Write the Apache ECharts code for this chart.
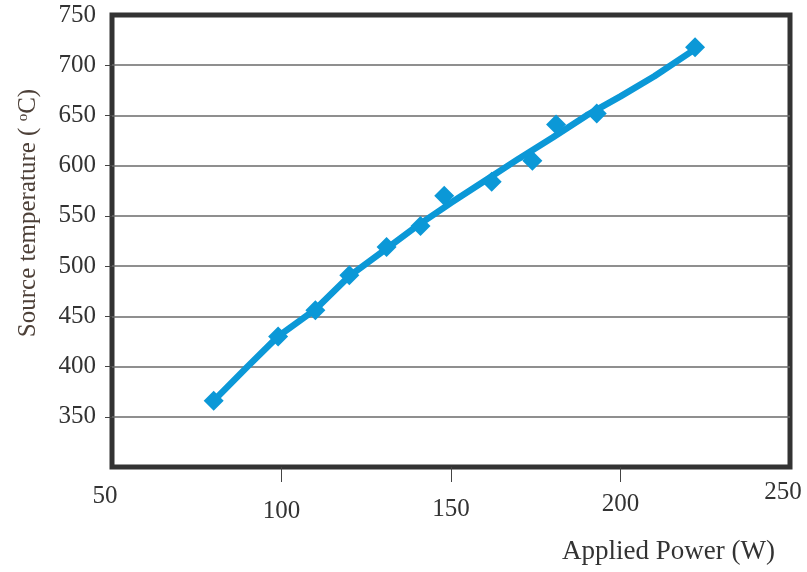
<!DOCTYPE html>
<html>
<head>
<meta charset="utf-8">
<script src="https://cdn.jsdelivr.net/npm/echarts@6/dist/echarts.min.js"></script>
<style>html,body{margin:0;padding:0;background:#fff}#c{width:807px;height:572px}</style>
</head>
<body>
<div id="c"></div>
<script>
// Measured data points (Applied Power W, Source temperature °C)
var powerPts = [80, 99, 110, 120, 131, 141, 148, 162, 174, 181, 193, 222];
var tempPts  = [366, 430, 456, 491, 519, 540, 570, 584, 605, 641, 652, 718];
// Fitted curve
var fitPower = [80, 90, 99, 110, 120, 130, 140, 150, 160, 170, 180, 190, 200, 210, 222];
var fitTemp  = [366, 400, 430, 457, 490, 515, 540, 563, 585, 607, 628, 650, 669, 689, 716];
var xTicks = [50, 100, 150, 200, 250];
var yTicks = [350, 400, 450, 500, 550, 600, 650, 700, 750];

var blue = '#0b98d7';
var font = 'Liberation Serif';
var txt = '#333';

function lab(pad) { return {fontFamily: font, fontSize: 25, color: txt, padding: pad}; }

var chart = echarts.init(document.getElementById('c'), null, {renderer: 'canvas'});
chart.setOption({
  animation: false,
  backgroundColor: '#fff',
  grid: {left: 112, right: 17, top: 15, bottom: 105, show: true, borderColor: '#333', borderWidth: 5, backgroundColor: 'transparent', containLabel: false, outerBoundsMode: 'none'},
  xAxis: {
    type: 'value', min: 50, max: 250, interval: 50,
    axisLine: {show: false},
    splitLine: {show: false},
    axisTick: {show: true, inside: false, length: 15, lineStyle: {color: '#444', width: 1}, customValues: xTicks.slice(1, 4)},
    axisLabel: {
      margin: 13, color: txt, fontFamily: font, fontSize: 25,
      formatter: function (v) { return '{l' + v + '|' + v + '}'; },
      rich: {
        l50: lab([4, 14, 0, 0]),
        l100: lab([19, 0, 0, 0]),
        l150: lab([17, 0, 0, 0]),
        l200: lab([12, 0, 0, 0]),
        l250: lab([0, 14, 0, 0])
      }
    },
    name: 'Applied Power (W)', nameLocation: 'end', nameGap: -15,
    nameTextStyle: {fontFamily: font, fontSize: 27, color: txt, align: 'right', verticalAlign: 'top', padding: [71, 0, 0, 0]}
  },
  yAxis: {
    type: 'value', min: 300, max: 750, interval: 50,
    axisLine: {show: false},
    splitLine: {show: true, lineStyle: {color: '#6a6a6a', width: 1.5}},
    axisTick: {show: true, inside: false, length: 7, lineStyle: {color: '#444', width: 1}, customValues: yTicks.slice(0, 8)},
    axisLabel: {
      margin: 16, color: txt, fontFamily: font, fontSize: 25,
      formatter: function (v) { return yTicks.indexOf(v) >= 0 ? String(v) : ''; }
    },
    name: '{a|Source temperature ( }{b|o}{a|C)}', nameLocation: 'middle', nameGap: 71,
    nameTextStyle: {
      padding: [0, 0, 0, 56],
      rich: {
        a: {fontFamily: font, fontSize: 25, color: '#4d4038'},
        b: {fontFamily: font, fontSize: 15, color: '#4d4038', verticalAlign: 'top', padding: [0, 0, 10, 0]}
      }
    }
  },
  series: [
    {
      type: 'line', data: fitPower.map(function (p, i) { return [p, fitTemp[i]]; }),
      showSymbol: false, smooth: false, lineStyle: {color: blue, width: 6.5}, z: 2
    },
    {
      type: 'scatter', data: powerPts.map(function (p, i) { return [p, tempPts[i]]; }),
      symbol: 'diamond', symbolSize: [20, 20], itemStyle: {color: blue, opacity: 1}, z: 3
    }
  ]
});
</script>
</body>
</html>
